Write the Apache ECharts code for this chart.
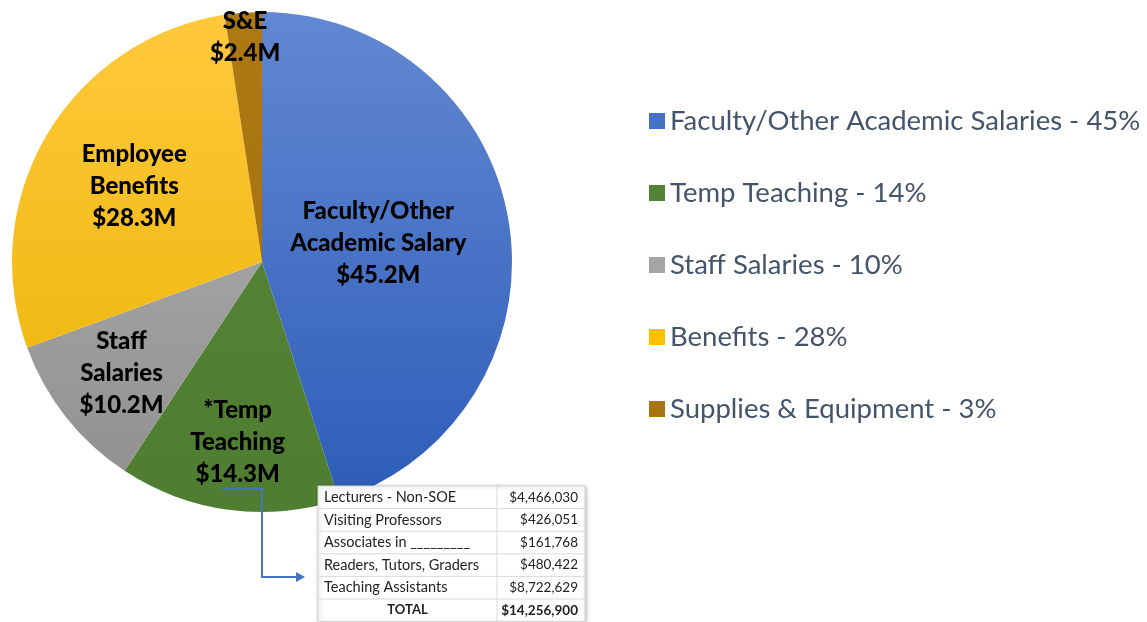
<!DOCTYPE html>
<html>
<head>
<meta charset="utf-8">
<title>Expenditure breakdown</title>
<script src="https://cdn.jsdelivr.net/npm/echarts@6.0.0/dist/echarts.min.js"></script>
<style>
    html, body { margin: 0; padding: 0; background: #fff; }
    .pie { width: 1147px; height: 622px; }
</style>
</head>
<body>
<div class="pie"></div>
<script>
// slices, clockwise from 12 o'clock
const categories = ['Faculty/Other Academic Salaries', 'Temp Teaching', 'Staff Salaries', 'Benefits', 'Supplies & Equipment'];
const shares = ['45%', '14%', '10%', '28%', '3%'];
const amounts = [45.2, 14.3, 10.2, 28.3, 2.4];
const sliceLabels = ['Faculty/Other\nAcademic Salary', '*Temp\nTeaching', 'Staff\nSalaries', 'Employee\nBenefits', 'S&E'];

// temp teaching breakdown table
const tempRows = ['Lecturers - Non-SOE', 'Visiting Professors', 'Associates in _________', 'Readers, Tutors, Graders', 'Teaching Assistants'];
const tempValues = [4466030, 426051, 161768, 480422, 8722629];
const tempTotal = 14256900;

(function (){
    const myChart = echarts.init(document.querySelector(".pie"))

    const cx = 262, cy = 262, radius = 250
    // how far out (fraction of radius) each label sits
    const labelReach = [0.46, 0.71, 0.70, 0.58, 0.88]

    const grad = function (top, bottom) {
        return new echarts.graphic.LinearGradient(0, cy - radius, 0, cy + radius, [
            { offset: 0, color: top },
            { offset: 1, color: bottom }
        ], true)
    }
    const fills = [
        grad('#6288d2', '#2c5cb8'),
        grad('#578737', '#4f7d31'),
        grad('#b4b4b4', '#8f8f8f'),
        grad('#ffc93c', '#e9b200'),
        grad('#ad7a12', '#a06c0c')
    ]
    const flat = ['#4472c4', '#548235', '#a5a5a5', '#ffc000', '#a8740f']

    const money = v => '$' + v.toLocaleString('en-US')

    // table graphic
    const tx = 318, ty = 486, rowH = 22.6, colW = [179, 88]
    const tableW = colW[0] + colW[1]
    const nRows = tempRows.length + 1
    const cells = []
    cells.push({
        type: 'rect', z: 100,
        shape: { x: tx, y: ty, width: tableW, height: rowH * nRows },
        style: { fill: '#fff', stroke: '#d4d4d4', lineWidth: 1, shadowBlur: 4, shadowColor: 'rgba(0,0,0,0.25)', shadowOffsetX: 1, shadowOffsetY: 1 }
    })
    for (let i = 1; i < nRows; i++) {
        cells.push({
            type: 'line', z: 101,
            shape: { x1: tx, y1: ty + rowH * i, x2: tx + tableW, y2: ty + rowH * i },
            style: { stroke: '#d9d9d9', lineWidth: 1 }
        })
    }
    cells.push({
        type: 'line', z: 101,
        shape: { x1: tx + colW[0], y1: ty, x2: tx + colW[0], y2: ty + rowH * nRows },
        style: { stroke: '#d9d9d9', lineWidth: 1 }
    })
    tempRows.forEach(function (name, i) {
        const yMid = ty + rowH * i + rowH / 2
        cells.push({
            type: 'text', z: 102, x: tx + 6, y: yMid,
            style: { text: name, fill: '#222', font: '14.5px Lato', verticalAlign: 'middle', align: 'left' }
        })
        cells.push({
            type: 'text', z: 102, x: tx + tableW - 7, y: yMid,
            style: { text: money(tempValues[i]), fill: '#222', font: '13.5px Lato', verticalAlign: 'middle', align: 'right' }
        })
    })
    const yTot = ty + rowH * (nRows - 1) + rowH / 2
    cells.push({
        type: 'text', z: 102, x: tx + colW[0] / 2, y: yTot,
        style: { text: 'TOTAL', fill: '#222', font: 'bold 13px Lato', verticalAlign: 'middle', align: 'center' }
    })
    cells.push({
        type: 'text', z: 102, x: tx + tableW - 7, y: yTot,
        style: { text: money(tempTotal), fill: '#222', font: 'bold 13.5px Lato', verticalAlign: 'middle', align: 'right' }
    })

    const option = {
        backgroundColor: '#fff',
        animation: false,
        legend: {
            orient: 'vertical',
            left: 644,
            top: 101,
            icon: 'rect',
            itemWidth: 16,
            itemHeight: 16,
            itemGap: 42,
            textStyle: {
                fontFamily: 'Lato',
                fontSize: 27.5,
                lineHeight: 30,
                color: '#44546a'
            },
            data: categories.map((name, i) => ({ name: name, itemStyle: { color: flat[i] } })),
            formatter: function (name) {
                return name + ' - ' + shares[categories.indexOf(name)]
            }
        },
        series: [
            {
                name: 'Expenditures',
                type: 'pie',
                z: 2,
                center: [cx, cy],
                radius: [0, radius],
                startAngle: 90,
                clockwise: true,
                label: {
                    position: 'inside',
                    color: '#000',
                    fontFamily: 'Lato',
                    fontWeight: 900,
                    fontSize: 24,
                    lineHeight: 32,
                    formatter: function (p) {
                        return sliceLabels[p.dataIndex] + '\n$' + amounts[p.dataIndex] + 'M'
                    }
                },
                labelLayout: function (p) {
                    const r = p.labelRect
                    const lx = r.x + r.width / 2, ly = r.y + r.height / 2
                    const k = labelReach[p.dataIndex] / 0.5 - 1
                    return { dx: (lx - cx) * k, dy: (ly - cy) * k }
                },
                labelLine: { show: false },
                emphasis: { disabled: true },
                data: categories.map((name, i) => ({
                    name: name,
                    value: amounts[i],
                    itemStyle: { color: fills[i] }
                }))
            }
        ],
        graphic: [
            {
                type: 'polyline',
                z: 100,
                shape: { points: [[222, 489], [262, 489], [262, 577], [298, 577]] },
                style: { stroke: '#4472c4', lineWidth: 2, fill: null }
            },
            {
                type: 'polygon',
                z: 100,
                shape: { points: [[296, 572], [305, 577], [296, 582]] },
                style: { fill: '#4472c4' }
            },
            {
                type: 'group',
                z: 100,
                children: cells
            }
        ]
    }

    myChart.setOption(option)

    window.addEventListener("resize", function () {
        myChart.resize()
    })
})();
</script>
</body>
</html>
